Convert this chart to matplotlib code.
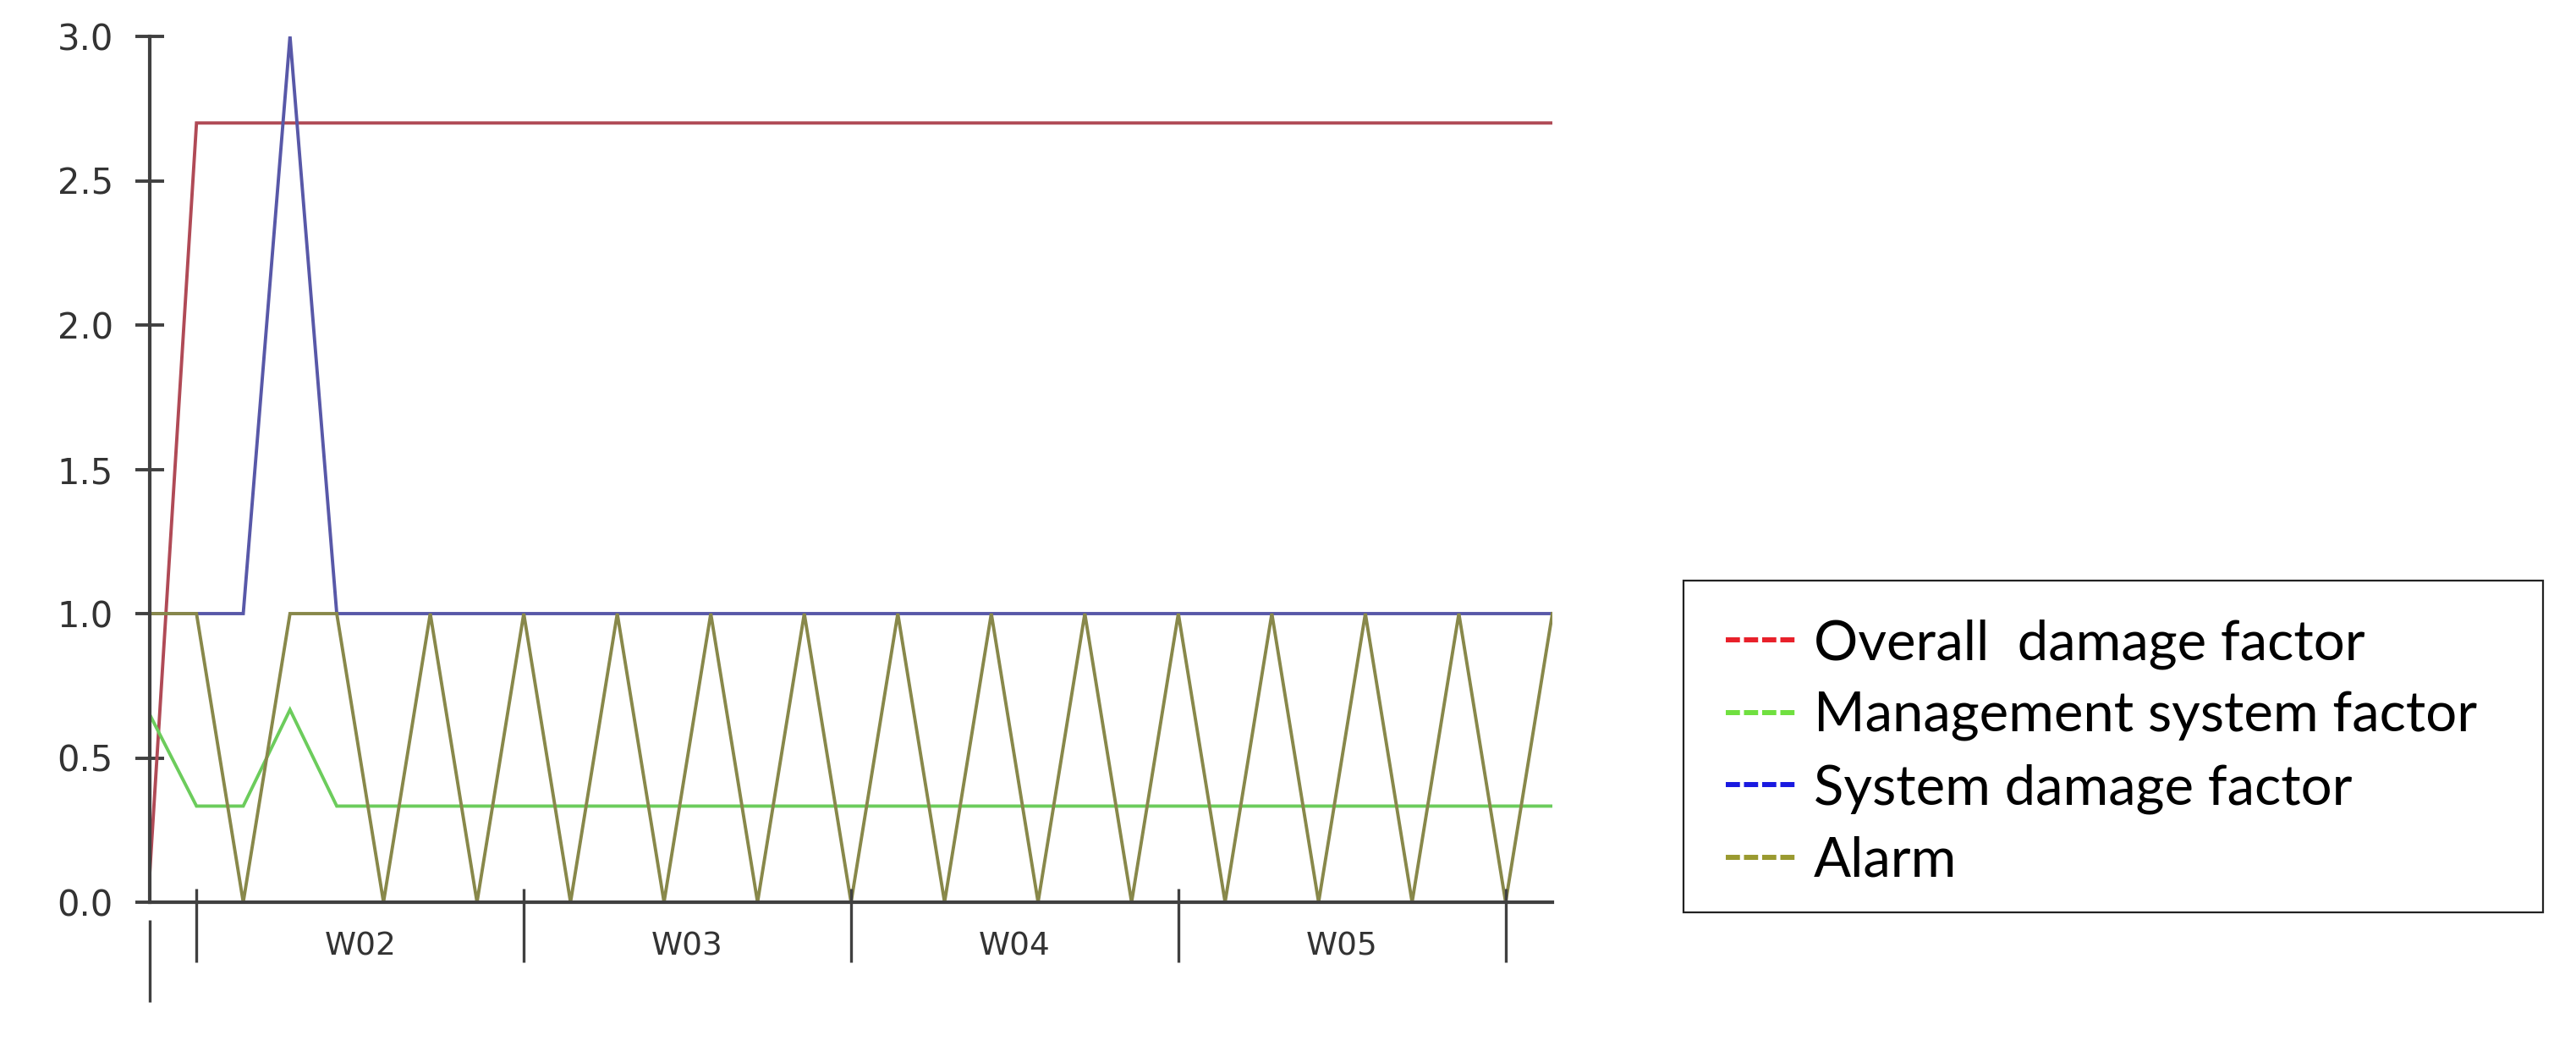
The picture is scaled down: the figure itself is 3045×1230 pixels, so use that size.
import numpy as np
import matplotlib.pyplot as plt
from matplotlib.lines import Line2D
from matplotlib.patches import Rectangle

# daily values over five weeks (day 0 .. day 30)
days = np.arange(31)
overall = [0.1, 2.7, 2.7, 2.7, 2.7, 2.7, 2.7, 2.7, 2.7, 2.7, 2.7, 2.7, 2.7, 2.7, 2.7, 2.7,
           2.7, 2.7, 2.7, 2.7, 2.7, 2.7, 2.7, 2.7, 2.7, 2.7, 2.7, 2.7, 2.7, 2.7, 2.7]
management = [0.65, 0.333, 0.333, 0.667, 0.333, 0.333, 0.333, 0.333, 0.333, 0.333, 0.333,
              0.333, 0.333, 0.333, 0.333, 0.333, 0.333, 0.333, 0.333, 0.333, 0.333, 0.333,
              0.333, 0.333, 0.333, 0.333, 0.333, 0.333, 0.333, 0.333, 0.333]
system = [1.0, 1.0, 1.0, 3.0, 1.0, 1.0, 1.0, 1.0, 1.0, 1.0, 1.0, 1.0, 1.0, 1.0, 1.0, 1.0,
          1.0, 1.0, 1.0, 1.0, 1.0, 1.0, 1.0, 1.0, 1.0, 1.0, 1.0, 1.0, 1.0, 1.0, 1.0]
alarm = [1, 1, 0, 1, 1, 0, 1, 0, 1, 0, 1, 0, 1, 0, 1, 0,
         1, 0, 1, 0, 1, 0, 1, 0, 1, 0, 1, 0, 1, 0, 1]

week_edges = [1, 8, 15, 22, 29]
week_labels = ["W02", "W03", "W04", "W05"]
y_ticks = [0.0, 0.5, 1.0, 1.5, 2.0, 2.5, 3.0]

series_names = ["Overall  damage factor", "Management system factor",
                "System damage factor", "Alarm"]
line_colors = ["#b04a56", "#6ccc5c", "#5858a8", "#88884a"]
legend_colors = ["#e8202a", "#70e040", "#1a1ae0", "#9a9a30"]

axis_col = "#404040"

fig = plt.figure(figsize=(30.45, 12.3), dpi=100)
ax = fig.add_axes([177 / 3045, 1 - 1066 / 1230, (1835 - 177) / 3045, (1066 - 43) / 1230])

for vals, col in zip([overall, management, system, alarm], line_colors):
    ax.plot(days, vals, color=col, lw=2.8, solid_joinstyle="miter")

ax.set_xlim(0, 30)
ax.set_ylim(0, 3)

for s in ["top", "right"]:
    ax.spines[s].set_visible(False)
for s in ["left", "bottom"]:
    ax.spines[s].set_linewidth(3.0)
    ax.spines[s].set_color(axis_col)

ax.set_yticks(y_ticks, ["%.1f" % v for v in y_ticks])
ax.tick_params(axis="y", direction="inout", length=24, width=2.8, color=axis_col,
               pad=19, labelsize=30, labelcolor="#333333")

# week labels sit between the week boundary ticks
centers = [(a + b) / 2 for a, b in zip(week_edges[:-1], week_edges[1:])]
ax.set_xticks(centers, week_labels)
ax.tick_params(axis="x", length=0, pad=25, labelsize=27, labelcolor="#333333")

trans = ax.get_xaxis_transform()
ax.vlines(week_edges, -0.0694, 0.0152, transform=trans, clip_on=False,
          colors=axis_col, lw=2.4)
ax.vlines([0], -0.115, -0.0205, transform=trans, clip_on=False,
          colors=axis_col, lw=2.4)

# legend with a plain box
handles = [Line2D([], [], color=c, lw=4.3, dashes=(2.8, 0.8), dash_capstyle="butt")
           for c in legend_colors]
fig.legend(handles, series_names, loc="center left",
           bbox_to_anchor=(2040 / 3045, 1 - 889 / 1230), frameon=False,
           prop={"family": "Lato", "size": 47}, handlelength=1.26, handletextpad=0.33,
           borderpad=0, borderaxespad=0, labelspacing=0.40)
fig.patches.append(Rectangle((1990 / 3045, 1 - 1078 / 1230), (3006 - 1990) / 3045,
                             (1078 - 686) / 1230, transform=fig.transFigure,
                             fill=False, edgecolor="#222222", lw=1.6))

fig.savefig("out.png", dpi=100)
